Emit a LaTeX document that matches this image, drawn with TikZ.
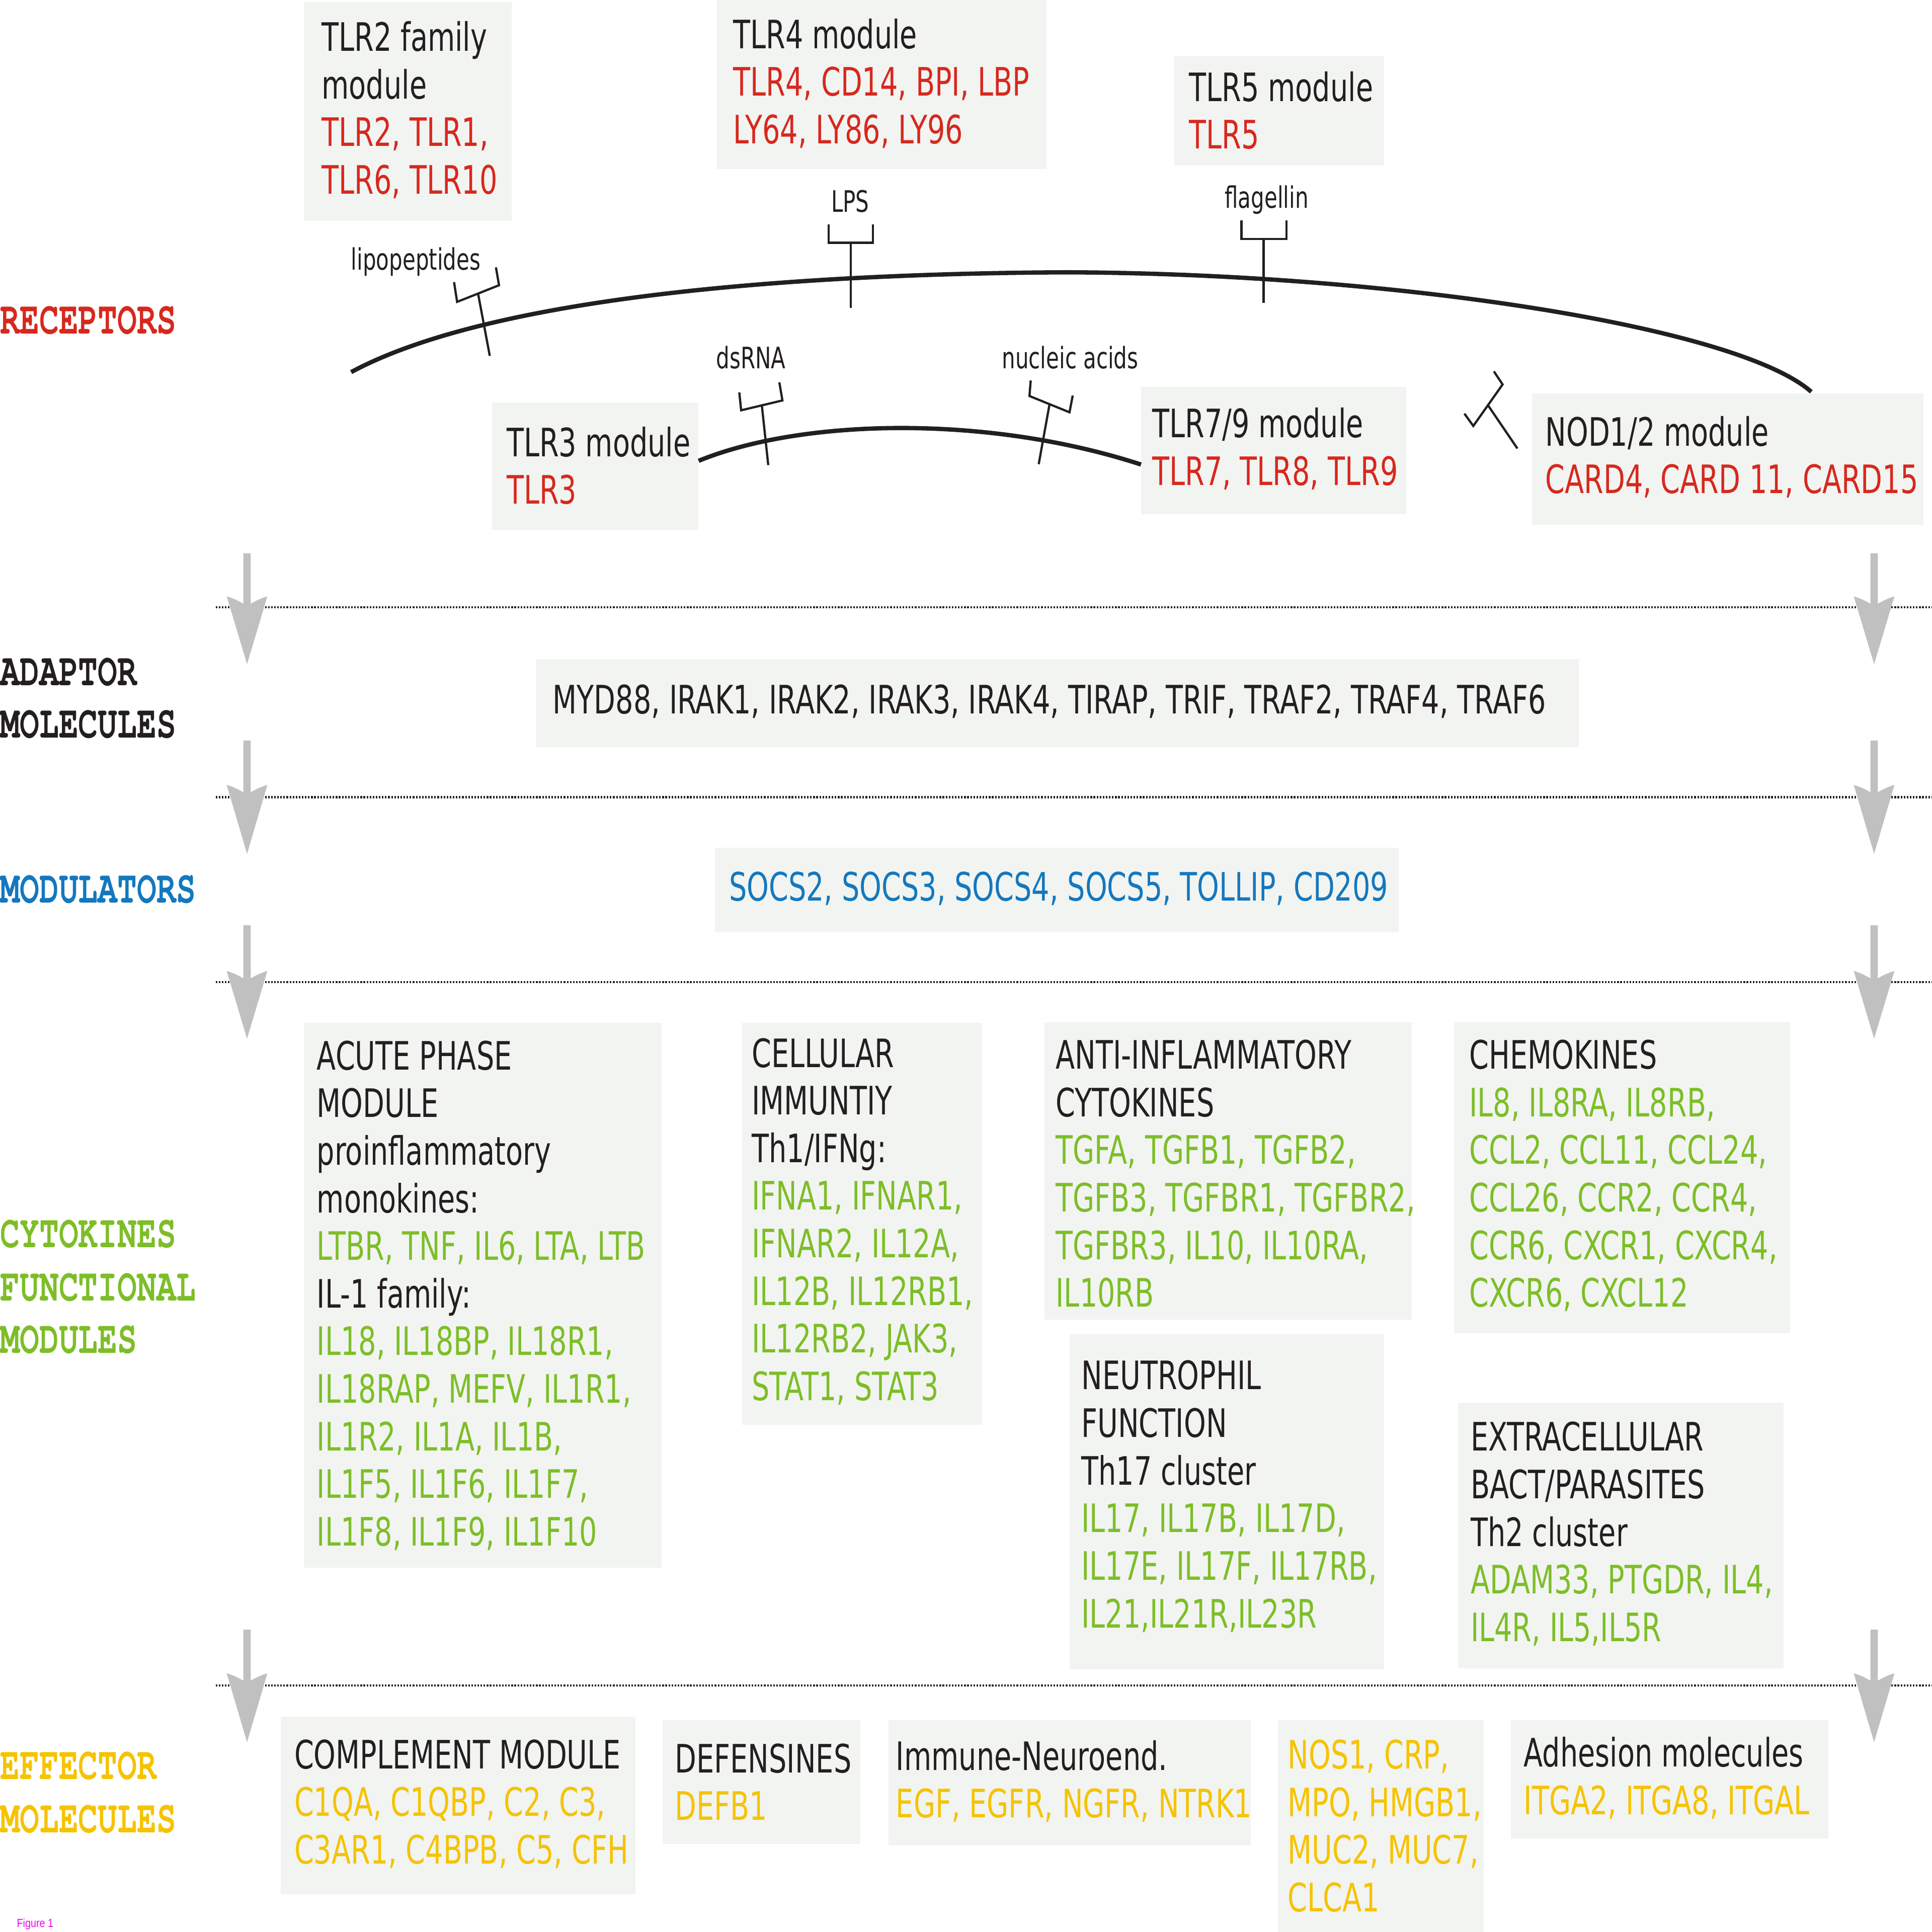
\documentclass[tikz,border=0pt]{standalone}
\usepackage{fontspec}
\newfontfamily\boxfnt[FakeStretch=0.715]{DejaVu Sans}
\newfontfamily\monofnt[FakeStretch=0.705]{TeX Gyre Cursor}
\newfontfamily\figfnt[FakeStretch=0.85]{Liberation Sans}
\definecolor{cred}{RGB}{215,40,30}
\definecolor{cblk}{RGB}{35,31,32}
\definecolor{cgrn}{RGB}{125,190,40}
\definecolor{cblu}{RGB}{20,120,190}
\definecolor{cyel}{RGB}{245,195,0}
\definecolor{boxgray}{RGB}{242,244,241}
\definecolor{arrgray}{RGB}{192,192,192}
\definecolor{cmag}{RGB}{240,0,240}
\newcommand\bx[5]{\node[boxst, minimum width=#4, minimum height=#5] (#1) at (#2,#3) {};}
\newcommand\tx[5]{\node[lnst, text=#4] (#1) at (#2,#3) {#5};}
\newcommand\garrow[4]{\fill[arrgray] (#1-3,#2) -- (#1+3,#2) -- (#1+3,#3+6) .. controls (#1+8,#3+3) and (#1+13,#3+1) .. (#1+16.5,#3) -- (#1,#4) -- (#1-16.5,#3) .. controls (#1-13,#3+1) and (#1-8,#3+3) .. (#1-3,#3+6) -- cycle;}
\begin{document}
\begin{tikzpicture}[x=1pt,y=-1pt,
  boxst/.style={fill=boxgray, draw=none, inner sep=0pt, anchor=north west},
  lnst/.style={anchor=base west, inner sep=0pt, font=\boxfnt\fontsize{31.8}{38}\selectfont},
  lblst/.style={anchor=base, inner sep=0pt, text=cblk, font=\boxfnt\fontsize{24}{28}\selectfont},
  catst/.style={anchor=base west, inner sep=0pt, font=\monofnt\bfseries\fontsize{37.5}{40}\selectfont},
  membst/.style={line width=3.5pt, draw=cblk},
  rcpst/.style={line width=1.8pt, draw=cblk, line join=miter},
  dotst/.style={draw=cblk, line width=1.7pt, dash pattern=on 1.3pt off 1.2pt}]
\useasboundingbox (0,0) rectangle (1568,1568);

% separators
\draw[dotst] (175,493) -- (1568,493);
\draw[dotst] (175,647) -- (1568,647);
\draw[dotst] (175,797) -- (1568,797);
\draw[dotst] (175,1368) -- (1568,1368);

% arrows
\garrow{200.5}{449}{484}{539}
\garrow{200.5}{601}{637}{693}
\garrow{200.5}{751}{788}{843}
\garrow{200.5}{1322.6}{1358}{1414}
\garrow{1521}{449}{484}{539}
\garrow{1521}{601}{637}{693}
\garrow{1521}{751}{788}{843}
\garrow{1521}{1322.6}{1358}{1414}

% category labels
\node[catst, text=cred] (cRec) at (0,270.8) {RECEPTORS};
\node[catst, text=cblk] (cAd1) at (0,556.5) {ADAPTOR};
\node[catst, text=cblk] (cAd2) at (0,599) {MOLECULES};
\node[catst, text=cblu] (cMod) at (0,732.8) {MODULATORS};
\node[catst, text=cgrn] (cCy1) at (0,1012.5) {CYTOKINES};
\node[catst, text=cgrn] (cCy2) at (0,1055.8) {FUNCTIONAL};
\node[catst, text=cgrn] (cCy3) at (0,1098.3) {MODULES};
\node[catst, text=cyel] (cEf1) at (0,1444.2) {EFFECTOR};
\node[catst, text=cyel] (cEf2) at (0,1487.5) {MOLECULES};
\node[anchor=base west, inner sep=0pt, text=cmag, font=\figfnt\fontsize{9.5}{11}\selectfont] (fig) at (13.5,1564.3) {Figure 1};

% boxes
\bx{bTLR2}{246.5}{1.5}{168.5}{177.5}
\bx{bTLR4}{581.5}{0}{267.5}{137}
\bx{bTLR5}{953}{45}{170}{89}
\bx{bTLR3}{399}{326.6}{167.5}{103}
\bx{bTLR79}{926}{313.7}{215}{103.5}
\bx{bNOD}{1243}{319}{318}{106.5}
\bx{bAdapt}{434.5}{534.7}{846.5}{71.5}
\bx{bMod}{580}{688}{555}{68.6}
\bx{bAcute}{246.6}{830}{290}{442}
\bx{bCell}{602}{830}{195}{326}
\bx{bAnti}{847.5}{829.7}{298}{241}
\bx{bChemo}{1180}{829.7}{272.5}{252.3}
\bx{bNeut}{868}{1082.8}{255}{271.7}
\bx{bExtra}{1183}{1138.4}{264.5}{215.4}
\bx{bCompl}{227.5}{1393}{288}{144}
\bx{bDef}{537.5}{1395.8}{160.5}{100.4}
\bx{bImm}{721}{1395.8}{294}{101.8}
\bx{bNos}{1037}{1395.8}{167}{172.2}
\bx{bAdh}{1226}{1395.8}{257.5}{96.2}

% membranes
\draw[membst] (285,302) .. controls (400,240) and (650,222) .. (866,221) .. controls (1130,222) and (1410,265) .. (1470,318);
\draw[membst] (567,374) .. controls (650,340) and (800,336) .. (926,377);

% receptor symbols
\draw[rcpst] (397.5,288.8) -- (388,238.3);
\draw[rcpst] (368.5,229) -- (371,245) -- (405,231.5) -- (402.5,217);
\draw[rcpst] (690.5,250) -- (690.5,197);
\draw[rcpst] (672.5,182) -- (672.5,197) -- (708.5,197) -- (708.5,182);
\draw[rcpst] (1025.5,246) -- (1025.5,194);
\draw[rcpst] (1007.5,179) -- (1007.5,194) -- (1044,194) -- (1044,179);
\draw[rcpst] (623.5,377.5) -- (618.3,329);
\draw[rcpst] (600,318.5) -- (601.5,333) -- (635,325) -- (632.5,310.3);
\draw[rcpst] (843,376.7) -- (851.8,328);
\draw[rcpst] (836.5,308.8) -- (835.5,321.4) -- (868,334.6) -- (870.6,321);
\draw[rcpst] (1231.5,364) -- (1207.7,329);
\draw[rcpst] (1188.5,335.7) -- (1195.7,345.7) -- (1219.5,312) -- (1212.4,301.4);

% ligand labels
\node[lblst] (lLip) at (337.5,219) {lipopeptides};
\node[lblst] (lLPS) at (690,172) {LPS};
\node[lblst] (lFla) at (1028,169) {flagellin};
\node[lblst] (lDs) at (609.5,299) {dsRNA};
\node[lblst] (lNuc) at (868.5,299) {nucleic acids};

% receptor box texts
\tx{t21}{261}{41.5}{cblk}{TLR2 family}
\tx{t22}{261}{80.1}{cblk}{module}
\tx{t23}{261}{118.8}{cred}{TLR2, TLR1,}
\tx{t24}{261}{157.4}{cred}{TLR6, TLR10}
\tx{t41}{595}{39.3}{cblk}{TLR4 module}
\tx{t42}{595}{77.9}{cred}{TLR4, CD14, BPI, LBP}
\tx{t43}{595}{116.6}{cred}{LY64, LY86, LY96}
\tx{t51}{965}{82.2}{cblk}{TLR5 module}
\tx{t52}{965}{120.8}{cred}{TLR5}
\tx{t31}{411}{370.4}{cblk}{TLR3 module}
\tx{t32}{411}{409}{cred}{TLR3}
\tx{t71}{935}{355.2}{cblk}{TLR7/9 module}
\tx{t72}{935}{393.8}{cred}{TLR7, TLR8, TLR9}
\tx{tn1}{1254}{361.8}{cblk}{NOD1/2 module}
\tx{tn2}{1254}{400.4}{cred}{CARD4, CARD 11, CARD15}

% adaptors and modulators
\tx{ta1}{448.5}{579.3}{cblk}{MYD88, IRAK1, IRAK2, IRAK3, IRAK4, TIRAP, TRIF, TRAF2, TRAF4, TRAF6}
\tx{tm1}{591.5}{731.2}{cblu}{SOCS2, SOCS3, SOCS4, SOCS5, TOLLIP, CD209}

% acute phase
\tx{tac0}{257}{868.2}{cblk}{ACUTE PHASE}
\tx{tac1}{257}{906.83}{cblk}{MODULE}
\tx{tac2}{257}{945.46}{cblk}{proinflammatory}
\tx{tac3}{257}{984.09}{cblk}{monokines:}
\tx{tac4}{257}{1022.72}{cgrn}{LTBR, TNF, IL6, LTA, LTB}
\tx{tac5}{257}{1061.35}{cblk}{IL-1 family:}
\tx{tac6}{257}{1099.98}{cgrn}{IL18, IL18BP, IL18R1,}
\tx{tac7}{257}{1138.61}{cgrn}{IL18RAP, MEFV, IL1R1,}
\tx{tac8}{257}{1177.24}{cgrn}{IL1R2, IL1A, IL1B,}
\tx{tac9}{257}{1215.87}{cgrn}{IL1F5, IL1F6, IL1F7,}
\tx{tac10}{257}{1254.5}{cgrn}{IL1F8, IL1F9, IL1F10}

% cellular immunity
\tx{tce0}{610}{866.1}{cblk}{CELLULAR}
\tx{tce1}{610}{904.73}{cblk}{IMMUNTIY}
\tx{tce2}{610}{943.36}{cblk}{Th1/IFNg:}
\tx{tce3}{610}{981.99}{cgrn}{IFNA1, IFNAR1,}
\tx{tce4}{610}{1020.62}{cgrn}{IFNAR2, IL12A,}
\tx{tce5}{610}{1059.25}{cgrn}{IL12B, IL12RB1,}
\tx{tce6}{610}{1097.88}{cgrn}{IL12RB2, JAK3,}
\tx{tce7}{610}{1136.51}{cgrn}{STAT1, STAT3}

% anti-inflammatory
\tx{tan0}{856.7}{867.6}{cblk}{ANTI-INFLAMMATORY}
\tx{tan1}{856.7}{906.23}{cblk}{CYTOKINES}
\tx{tan2}{856.7}{944.86}{cgrn}{TGFA, TGFB1, TGFB2,}
\tx{tan3}{856.7}{983.49}{cgrn}{TGFB3, TGFBR1, TGFBR2,}
\tx{tan4}{856.7}{1022.12}{cgrn}{TGFBR3, IL10, IL10RA,}
\tx{tan5}{856.7}{1060.75}{cgrn}{IL10RB}

% chemokines
\tx{tch0}{1192.3}{867.6}{cblk}{CHEMOKINES}
\tx{tch1}{1192.3}{906.23}{cgrn}{IL8, IL8RA, IL8RB,}
\tx{tch2}{1192.3}{944.86}{cgrn}{CCL2, CCL11, CCL24,}
\tx{tch3}{1192.3}{983.49}{cgrn}{CCL26, CCR2, CCR4,}
\tx{tch4}{1192.3}{1022.12}{cgrn}{CCR6, CXCR1, CXCR4,}
\tx{tch5}{1192.3}{1060.75}{cgrn}{CXCR6, CXCL12}

% neutrophil
\tx{tne0}{877.5}{1127.8}{cblk}{NEUTROPHIL}
\tx{tne1}{877.5}{1166.43}{cblk}{FUNCTION}
\tx{tne2}{877.5}{1205.06}{cblk}{Th17 cluster}
\tx{tne3}{877.5}{1243.69}{cgrn}{IL17, IL17B, IL17D,}
\tx{tne4}{877.5}{1282.32}{cgrn}{IL17E, IL17F, IL17RB,}
\tx{tne5}{877.5}{1320.95}{cgrn}{IL21,IL21R,IL23R}

% extracellular
\tx{tex0}{1193.4}{1177.6}{cblk}{EXTRACELLULAR}
\tx{tex1}{1193.4}{1216.23}{cblk}{BACT/PARASITES}
\tx{tex2}{1193.4}{1254.86}{cblk}{Th2 cluster}
\tx{tex3}{1193.4}{1293.49}{cgrn}{ADAM33, PTGDR, IL4,}
\tx{tex4}{1193.4}{1332.12}{cgrn}{IL4R, IL5,IL5R}

% effectors
\tx{tco0}{238.7}{1435.3}{cblk}{COMPLEMENT MODULE}
\tx{tco1}{238.7}{1473.93}{cyel}{C1QA, C1QBP, C2, C3,}
\tx{tco2}{238.7}{1512.56}{cyel}{C3AR1, C4BPB, C5, CFH}
\tx{tde0}{547.6}{1438.7}{cblk}{DEFENSINES}
\tx{tde1}{547.6}{1477.33}{cyel}{DEFB1}
\tx{tim0}{727}{1436.6}{cblk}{Immune-Neuroend.}
\tx{tim1}{727}{1475.23}{cyel}{EGF, EGFR, NGFR, NTRK1}
\tx{tno0}{1045}{1435.5}{cyel}{NOS1, CRP,}
\tx{tno1}{1045}{1474.13}{cyel}{MPO, HMGB1,}
\tx{tno2}{1045}{1512.76}{cyel}{MUC2, MUC7,}
\tx{tno3}{1045}{1551.39}{cyel}{CLCA1}
\tx{tad0}{1236.5}{1433.9}{cblk}{Adhesion molecules}
\tx{tad1}{1236.5}{1472.53}{cyel}{ITGA2, ITGA8, ITGAL}
\end{tikzpicture}
\end{document}
